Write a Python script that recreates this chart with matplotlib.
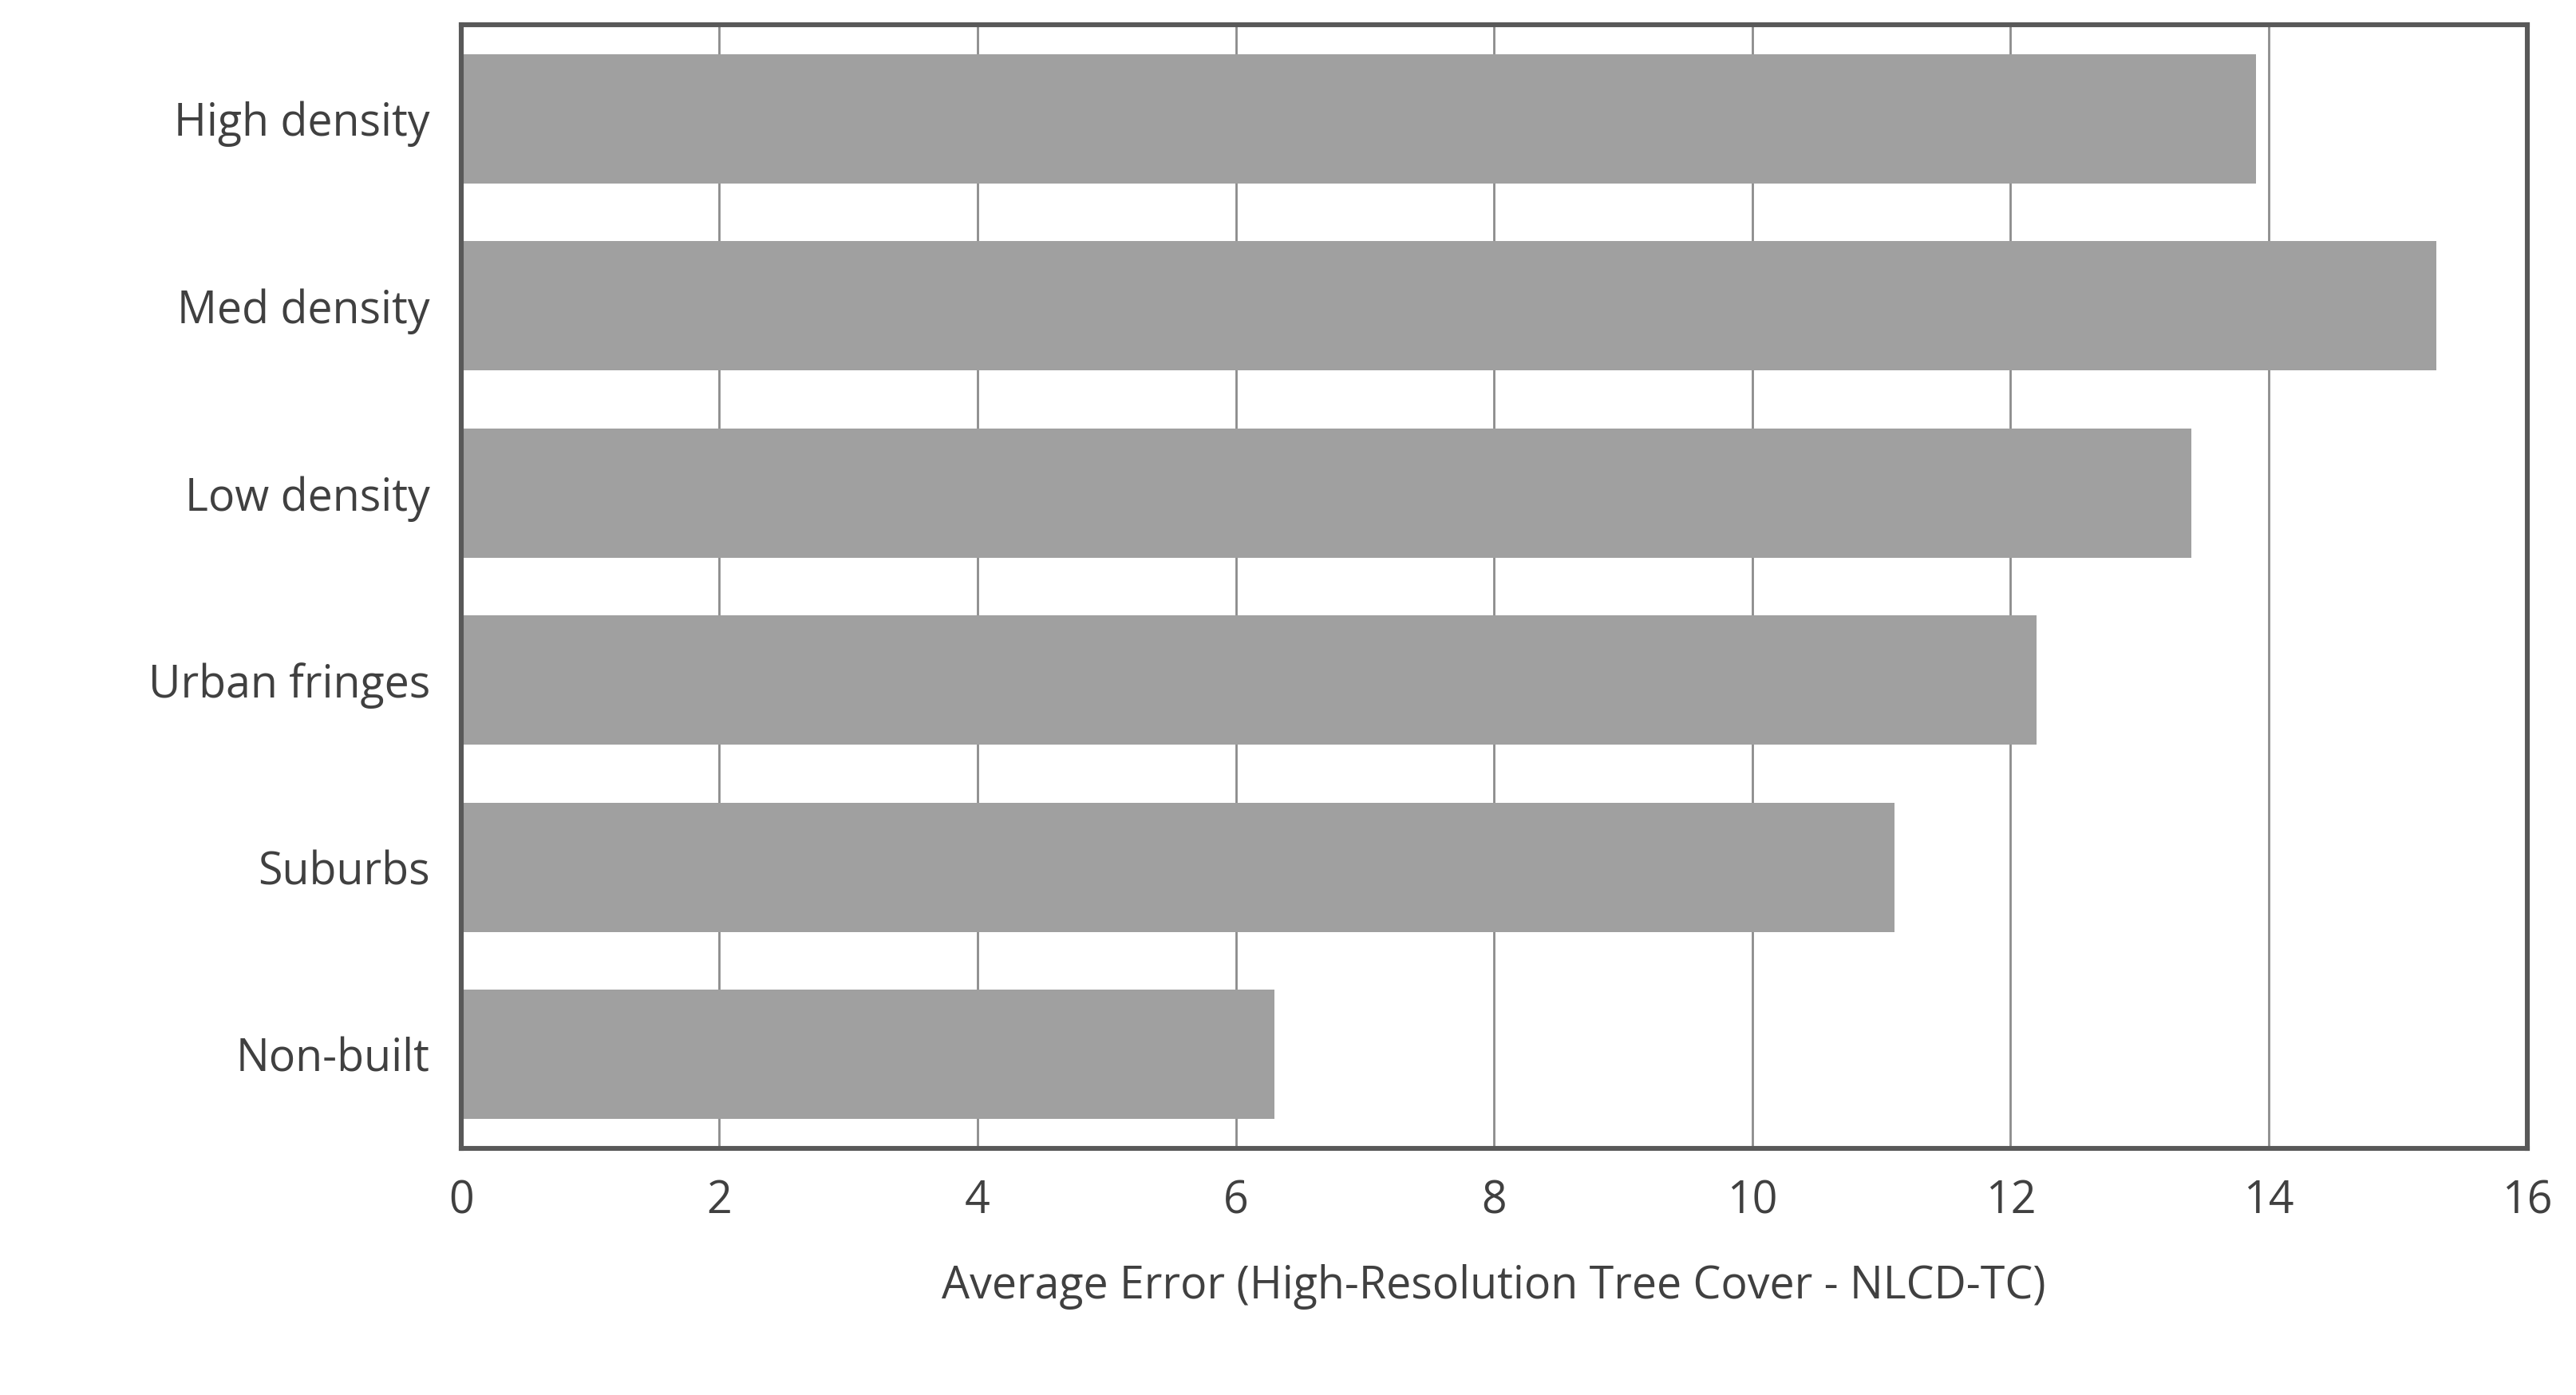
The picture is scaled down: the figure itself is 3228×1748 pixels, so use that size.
import matplotlib.pyplot as plt

categories = ["High density", "Med density", "Low density", "Urban fringes", "Suburbs", "Non-built"]
values = [13.9, 15.3, 13.4, 12.2, 11.1, 6.3]
xticks = [0, 2, 4, 6, 8, 10, 12, 14, 16]

plt.rcParams['font.family'] = ['Open Sans', 'DejaVu Sans']

fig = plt.figure(figsize=(16.14, 8.74), dpi=200)
ax = fig.add_axes([0.179, 0.177, 0.802, 0.805])

pos = list(range(len(categories)))[::-1]
ax.barh(pos, values, height=0.69, color="#a0a0a0", zorder=2)

ax.set_xlim(0, 16)
ax.set_ylim(-0.5, len(categories) - 0.5)
ax.set_xticks(xticks)
ax.set_xticklabels([str(t) for t in xticks])
ax.set_yticks(pos)
ax.set_yticklabels(categories)
ax.grid(axis='x', color="#8c8c8c", linewidth=1.0, zorder=1)
ax.tick_params(length=0, labelsize=20, colors="#404040", pad=14)
for s in ax.spines.values():
    s.set_color("#595959")
    s.set_linewidth(2.2)

ax.set_xlabel("Average Error (High-Resolution Tree Cover - NLCD-TC)", fontsize=20, color="#404040", labelpad=18)

fig.savefig("out.png", dpi=200)
